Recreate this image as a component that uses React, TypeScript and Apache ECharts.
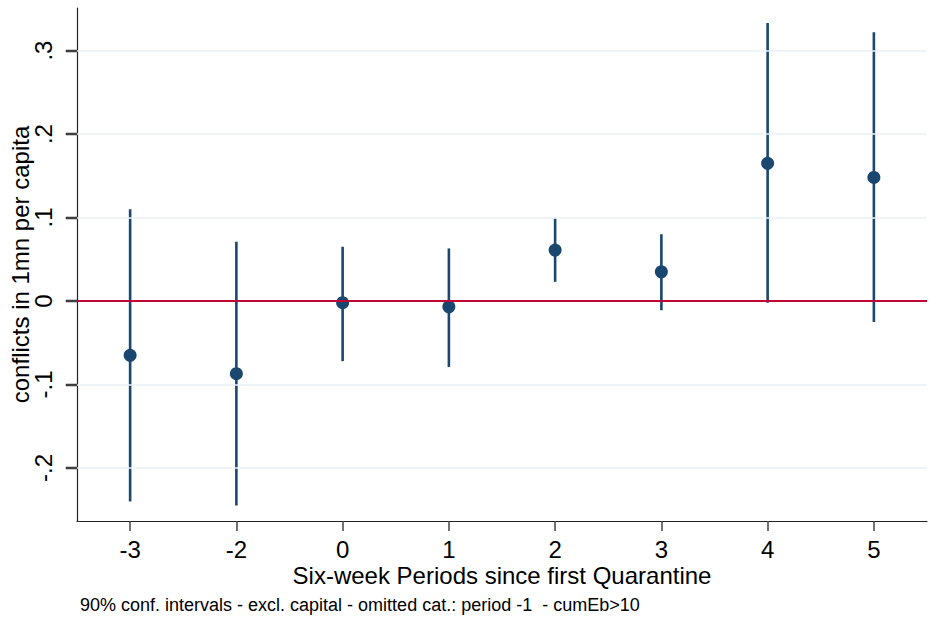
import React, { useEffect, useRef } from "react";
import * as echarts from "echarts";

const periods = ["-3", "-2", "0", "1", "2", "3", "4", "5"];
const estimates = [-0.065, -0.087, -0.002, -0.007, 0.061, 0.035, 0.165, 0.148];
const ciLow = [-0.240, -0.245, -0.072, -0.079, 0.023, -0.011, -0.002, -0.025];
const ciHigh = [0.110, 0.071, 0.065, 0.063, 0.099, 0.080, 0.333, 0.322];
const yTicks = [-0.2, -0.1, 0, 0.1, 0.2, 0.3];
const gridValues = [-0.2, -0.1, 0.1, 0.2, 0.3];
const yTitle = "conflicts in 1mn per capita";
const xTitle = "Six-week Periods since first Quarantine";
const note = "90% conf. intervals - excl. capital - omitted cat.: period -1  - cumEb>10";

const FONT = "'Liberation Sans', Arial, Helvetica, sans-serif";
const NAVY = "#1a476f";
const GRID_LEFT = 77;
const TICK_LEN = 10;

function fmt(v: number): string {
  const r = Math.round(v * 10) / 10;
  if (Math.abs(r) < 1e-9) return "0";
  return r.toFixed(1).replace("0.", ".");
}

export default function App() {
  const ref = useRef<HTMLDivElement>(null);
  useEffect(() => {
    if (!ref.current) return;
    const chart = echarts.init(ref.current, null, { renderer: "svg" });
    const option: any = {
      animation: false,
      backgroundColor: "#ffffff",
      grid: { left: GRID_LEFT, right: 16, top: 8, bottom: 100, containLabel: false, outerBoundsMode: "none" },
      xAxis: {
        type: "category",
        data: periods,
        boundaryGap: true,
        name: xTitle,
        nameLocation: "middle",
        nameGap: 42,
        nameMoveOverlap: false,
        nameTextStyle: { fontSize: 24, color: "#000", fontFamily: FONT },
        axisLine: { show: true, onZero: false, lineStyle: { color: "#222", width: 1.2 } },
        axisTick: { show: true, alignWithLabel: true, length: TICK_LEN, lineStyle: { color: "#444", width: 1.5 } },
        axisLabel: { fontSize: 24, color: "#000", fontFamily: FONT, margin: 16 },
        splitLine: { show: false },
      },
      yAxis: {
        type: "value",
        min: -0.2635,
        max: 0.351,
        name: yTitle,
        nameLocation: "middle",
        nameGap: 45,
        nameMoveOverlap: false,
        nameTextStyle: { fontSize: 24, color: "#000", fontFamily: FONT },
        axisLine: { show: true, onZero: false, lineStyle: { color: "#222", width: 1.2 } },
        axisTick: { show: true, length: TICK_LEN, customValues: yTicks, lineStyle: { color: "#444", width: 1.5 } },
        axisLabel: {
          fontSize: 24,
          color: "#000",
          fontFamily: FONT,
          rotate: 90,
          margin: 22,
          customValues: yTicks,
          formatter: (v: number) => fmt(v),
        },
        splitLine: { show: false },
      },
      series: [
        {
          type: "line",
          data: [],
          z: 1,
          silent: true,
          markLine: {
            silent: true,
            symbol: ["none", "none"],
            label: { show: false },
            data: gridValues.map((v) => ({ yAxis: v, lineStyle: { color: "#eaf0f3", width: 1.5, type: "solid" } })),
          },
        },
        {
          type: "line",
          data: [],
          z: 2,
          silent: true,
          markLine: {
            silent: true,
            symbol: ["none", "none"],
            label: { show: false },
            data: [{ yAxis: 0, lineStyle: { color: "#c10534", width: 2, type: "solid" } }],
          },
        },
        {
          type: "custom",
          z: 3,
          data: periods.map((p, i) => [i, ciLow[i], ciHigh[i]]),
          renderItem: (params: any, api: any) => {
            const i = api.value(0);
            const lo = api.coord([i, api.value(1)]);
            const hi = api.coord([i, api.value(2)]);
            return {
              type: "line",
              shape: { x1: lo[0], y1: lo[1], x2: hi[0], y2: hi[1] },
              style: { stroke: NAVY, lineWidth: 2.6 },
            };
          },
        },
        {
          type: "scatter",
          z: 4,
          data: periods.map((p, i) => [i, estimates[i]]),
          symbol: "circle",
          symbolSize: 13,
          itemStyle: { color: NAVY, opacity: 1 },
        },
      ],
    };
    chart.setOption(option);

    // y-axis tick marks, positioned through the axis scale
    const tickRects: any[] = [];
    yTicks.forEach((v) => {
      const pt = chart.convertToPixel({ gridIndex: 0 }, [0, v]) as any;
      const y = Array.isArray(pt) ? pt[1] : pt;
      if (typeof y === "number" && isFinite(y)) {
        tickRects.push({
          type: "rect",
          shape: { x: GRID_LEFT - TICK_LEN - 1, y: Math.round(y) - 1, width: TICK_LEN + 1, height: 2 },
          style: { fill: "#333333", stroke: "#333333", lineWidth: 0.5 },
        });
      }
    });
    chart.setOption({
      graphic: {
        elements: [
          {
            type: "text",
            left: 80,
            top: 596,
            style: { text: note, fontSize: 18, fill: "#000", fontFamily: FONT },
          },
          {
            type: "group",
            x: 0,
            y: 0,
            silent: true,
            z: 100,
            children: tickRects,
          },
        ],
      },
    });

    return () => chart.dispose();
  }, []);
  return (
    <div
      ref={ref}
      style={{ position: "fixed", left: 0, top: 0, width: 943, height: 621 }}
    />
  );
}
